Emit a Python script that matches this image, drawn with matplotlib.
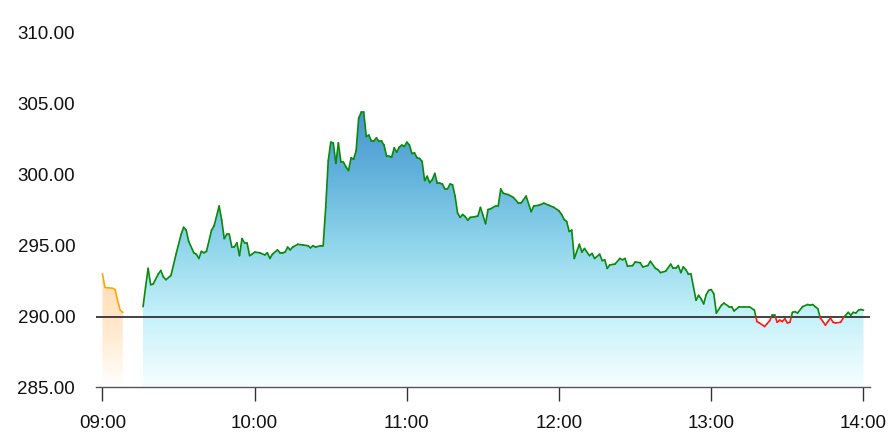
import numpy as np
import matplotlib
matplotlib.use('Agg')
import matplotlib.pyplot as plt
from matplotlib.colors import LinearSegmentedColormap
from matplotlib.collections import LineCollection

plt.rcParams['font.family'] = ['Liberation Sans', 'DejaVu Sans']


BASE_PRICE = 290.0
Y_MIN, Y_MAX = 285.0, 310.0
Y_TICKS = [285, 290, 295, 300, 305, 310]
X_TICKS = [0, 60, 120, 180, 240, 300]
X_TICK_LABELS = ['09:00', '10:00', '11:00', '12:00', '13:00', '14:00']

UP_COLOR = '#0a8a0a'
DOWN_COLOR = '#ff1a1a'
PRE_COLOR = '#ffa500'
BASE_LINE_COLOR = '#222222'


# ==============================================================================
# data (minutes after 09:00, price)
# ==============================================================================

pre_minutes = [0, 1, 4, 5, 6, 7, 8]
pre_prices = [293.0, 292.05, 292.0, 291.9, 291.1, 290.45, 290.3]

minutes = [
    16, 17, 18, 19, 20, 22, 23, 24, 25, 27, 29, 31, 32, 33, 34, 36, 37, 38, 39, 40,
    41, 43, 44, 46, 47, 48, 49, 50, 51, 52, 53, 54, 55, 56, 57, 58, 59, 60, 62, 64,
    65, 66, 67, 69, 70, 71, 72, 73, 74, 75, 77, 79, 81, 82, 83, 84, 86, 87, 88, 89,
    90, 91, 92, 93, 94, 95, 96, 97, 98, 99, 100, 101, 102, 103, 104, 105, 106, 107, 108, 109,
    110, 111, 112, 113, 114, 115, 116, 117, 118, 119, 120, 121, 122, 123, 124, 125, 126, 127, 128, 129,
    130, 131, 132, 133, 134, 135, 136, 137, 138, 139, 140, 141, 142, 143, 144, 145, 147, 148, 149, 150,
    151, 152, 153, 155, 156, 157, 158, 160, 162, 164, 165, 167, 169, 170, 172, 174, 176, 178, 180, 181,
    182, 183, 184, 185, 186, 188, 189, 190, 192, 193, 194, 196, 197, 198, 199, 200, 202, 204, 205, 206,
    207, 209, 210, 212, 213, 215, 216, 218, 219, 220, 222, 224, 225, 226, 227, 228, 229, 230, 231, 232,
    234, 235, 236, 237, 238, 239, 240, 241, 242, 244, 245, 247, 248, 249, 251, 253, 255, 257, 258, 259,
    261, 262, 263, 264, 265, 266, 267, 268, 269, 270, 271, 272, 273, 274, 276, 278, 279, 280, 281, 282,
    283, 284, 285, 286, 287, 288, 289, 291, 292, 294, 295, 296, 297, 298, 299, 300,
]

prices = [
    290.7, 292.1, 293.4, 292.25, 292.3, 293.0, 293.25, 292.8, 292.6, 292.9,
    294.4, 295.8, 296.3, 296.1, 295.3, 294.5, 294.4, 294.1, 294.6, 294.5,
    294.6, 296.1, 296.4, 297.8, 296.8, 295.5, 295.8, 295.8, 294.9, 294.9,
    295.2, 294.3, 295.5, 295.2, 295.2, 294.3, 294.4, 294.55, 294.5, 294.35,
    294.5, 294.1, 294.4, 294.7, 294.5, 294.5, 294.55, 294.9, 294.7, 294.9,
    295.1, 295.05, 295.0, 294.85, 295.0, 294.9, 295.0, 295.0, 297.7, 301.0,
    302.3, 302.25, 300.8, 302.25, 300.9, 300.9, 300.55, 300.3, 301.2, 301.1,
    301.7, 304.0, 304.4, 304.4, 302.7, 302.8, 302.4, 302.4, 302.6, 302.35,
    302.35, 302.1, 301.3, 301.3, 301.25, 301.9, 301.6, 301.95, 302.1, 302.0,
    302.3, 302.1, 301.5, 301.55, 301.2, 301.15, 300.95, 299.6, 299.9, 299.45,
    299.65, 300.1, 299.4, 299.4, 299.35, 299.0, 299.0, 299.35, 299.3, 298.5,
    297.3, 297.0, 297.2, 297.05, 296.8, 297.0, 297.05, 297.1, 297.7, 297.15,
    296.55, 297.55, 297.6, 297.8, 297.8, 299.0, 298.7, 298.6, 298.4, 298.0,
    298.0, 298.5, 297.4, 297.8, 297.85, 298.0, 297.85, 297.7, 297.45, 297.2,
    296.85, 296.7, 296.0, 296.1, 294.1, 295.1, 294.55, 294.8, 294.3, 294.45,
    294.1, 294.4, 293.95, 294.0, 293.4, 293.65, 293.7, 294.1, 294.0, 294.1,
    293.55, 293.6, 293.85, 293.8, 293.5, 293.6, 293.9, 293.4, 293.3, 293.1,
    293.2, 293.7, 293.4, 293.4, 293.6, 293.1, 293.5, 293.3, 293.0, 293.0,
    291.15, 291.5, 291.25, 290.9, 291.55, 291.85, 291.9, 291.6, 290.25, 290.8,
    290.95, 290.7, 290.7, 290.4, 290.7, 290.7, 290.7, 290.45, 289.65, 289.55,
    289.3, 289.5, 289.7, 290.1, 290.1, 289.6, 289.75, 289.65, 289.85, 289.55,
    289.6, 290.3, 290.35, 290.25, 290.7, 290.85, 290.8, 290.85, 290.7, 290.55,
    289.9, 289.65, 289.4, 289.65, 289.9, 289.6, 289.55, 289.6, 289.9, 290.3,
    290.1, 290.3, 290.25, 290.45, 290.5, 290.45,
]


# ==============================================================================
# helpers
# ==============================================================================


def split_at_base(x, y, base):
    """Insert the points where the series crosses the base price."""
    xs, ys = [x[0]], [y[0]]
    for i in range(1, len(x)):
        y0, y1 = y[i - 1], y[i]
        if (y0 - base) * (y1 - base) < 0:
            t = (base - y0) / (y1 - y0)
            xs.append(x[i - 1] + t * (x[i] - x[i - 1]))
            ys.append(base)
        xs.append(x[i])
        ys.append(y1)
    return np.array(xs), np.array(ys)


def gradient_fill(ax, x, y, colors, zorder=1):
    top = max(y)
    poly = ax.fill_between(x, y, Y_MIN, color='none', lw=0)
    cmap = LinearSegmentedColormap.from_list('grad', colors)
    grad = np.linspace(0, 1, 256).reshape(-1, 1)
    img = ax.imshow(grad, extent=[min(x), max(x), Y_MIN, top], aspect='auto',
                    cmap=cmap, origin='lower', zorder=zorder, interpolation='bicubic')
    img.set_clip_path(poly.get_paths()[0], transform=ax.transData)


# ==============================================================================
# figure
# ==============================================================================

fig = plt.figure(figsize=(8.92, 4.37), dpi=100)
ax = fig.add_axes([0.1076, 0.1133, 0.8677, 0.8112])

# pre-open auction
gradient_fill(ax, pre_minutes, pre_prices, ['#ffffff', '#ffe9cf', '#ffdcb2'])
ax.plot(pre_minutes, pre_prices, color=PRE_COLOR, lw=1.2, zorder=4)

# continuous session
gradient_fill(ax, minutes, prices,
              [(0.0, '#f6feff'), (0.27, '#c3f0f9'), (0.52, '#8fd5eb'),
               (0.78, '#62b1dc'), (1.0, '#4795cd')])

xs, ys = split_at_base(minutes, prices, BASE_PRICE)
segments = [((xs[i], ys[i]), (xs[i + 1], ys[i + 1])) for i in range(len(xs) - 1)]
seg_colors = [DOWN_COLOR if (ys[i] + ys[i + 1]) / 2 < BASE_PRICE else UP_COLOR
              for i in range(len(xs) - 1)]
ax.add_collection(LineCollection(segments, colors=seg_colors, linewidths=1.2,
                                 zorder=4, capstyle='round', joinstyle='round'))

# reference line at previous close
ax.axhline(BASE_PRICE, color=BASE_LINE_COLOR, lw=1.2, zorder=3)

# axes
ax.set_xlim(-2.56, 302.56)
ax.set_ylim(Y_MIN, Y_MAX)
ax.set_xticks(X_TICKS)
ax.set_xticklabels(X_TICK_LABELS)
ax.set_yticks(Y_TICKS)
ax.set_yticklabels(['{:.2f}'.format(v) for v in Y_TICKS])
for side in ('top', 'right', 'left'):
    ax.spines[side].set_visible(False)
ax.spines['bottom'].set_color('#555555')
ax.spines['bottom'].set_linewidth(1.0)
ax.tick_params(axis='x', length=10, width=1, color='#333333', pad=10,
               labelsize=13.5, labelcolor='#111111')
ax.tick_params(axis='y', length=0, pad=15, labelsize=13.5, labelcolor='#111111')

fig.savefig('out.png', dpi=100)
